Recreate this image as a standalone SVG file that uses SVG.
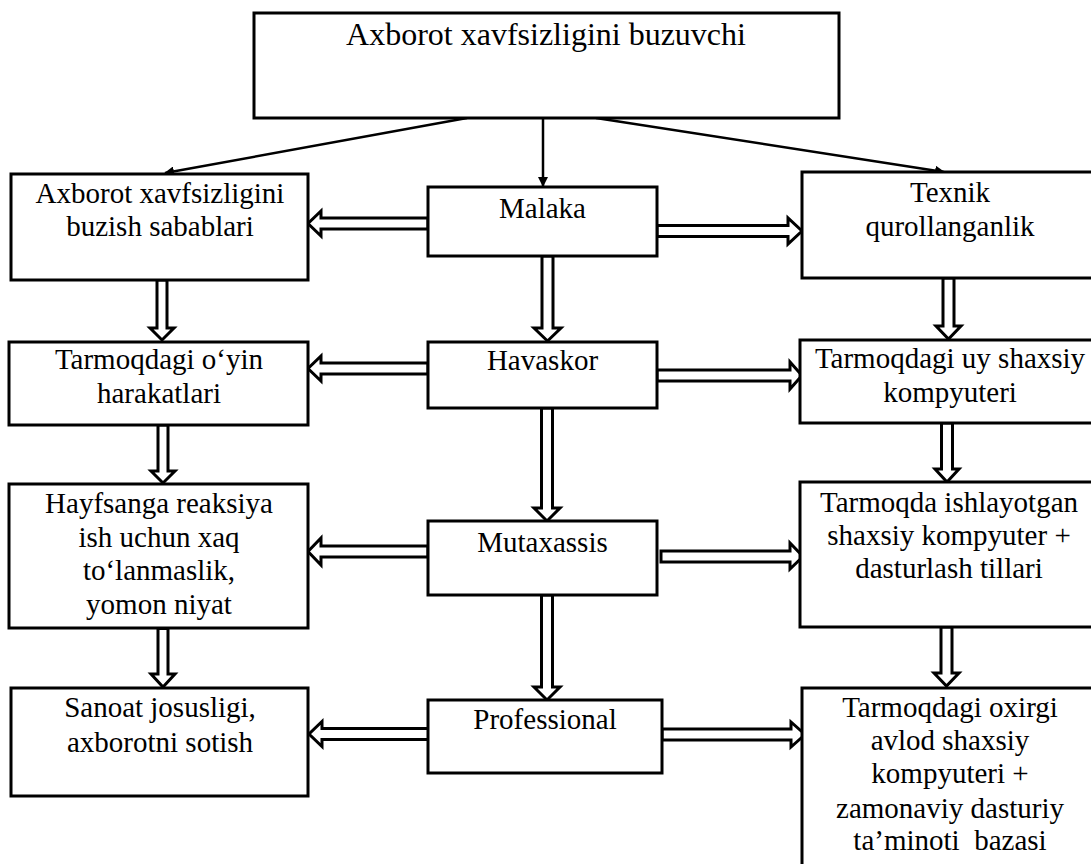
<svg xmlns="http://www.w3.org/2000/svg" width="1091" height="864" viewBox="0 0 1091 864">
<style>
.box{fill:#fff;stroke:#000;stroke-width:3}
.t{font-family:'Liberation Serif','Times New Roman',serif;font-size:29px;fill:#000;text-anchor:middle}
.title{font-size:32px}
.thin{stroke:#000;stroke-width:2.5;fill:none}
.dbl{fill:#fff;stroke:#000;stroke-width:3;stroke-linejoin:miter}
</style>
<defs>
<marker id="ah" markerWidth="10" markerHeight="10" refX="9" refY="5" orient="auto" markerUnits="userSpaceOnUse" viewBox="0 0 10 10">
<path d="M0,0 L10,5 L0,10 z" fill="#000"/>
</marker>
</defs>
<rect width="1091" height="864" fill="#fff"/>

<g id="connectors">
<line class="thin" x1="467" y1="118" x2="165" y2="173" marker-end="url(#ah)"/>
<line class="thin" x1="543" y1="118" x2="543" y2="186" marker-end="url(#ah)"/>
<line class="thin" x1="596" y1="118" x2="944" y2="172" marker-end="url(#ah)"/>
<polygon class="dbl" points="428,218 321,218 321,211 308,223.5 321,236 321,229 428,229"/>
<polygon class="dbl" points="657,225.5 788,225.5 788,218 802,231 788,244 788,236.5 657,236.5"/>
<polygon class="dbl" points="428,363 321,363 321,356 308,368.5 321,381 321,374 428,374"/>
<polygon class="dbl" points="657,370 790,370 790,362 802,375.5 790,389 790,381 657,381"/>
<polygon class="dbl" points="428,546 321,546 321,538 308,551.5 321,565 321,557 428,557"/>
<polygon class="dbl" points="661,551 790,551 790,543 803,556.5 790,569 790,562 661,562"/>
<polygon class="dbl" points="430,728.5 322,728.5 322,721.5 309,734 322,746.5 322,739.5 430,739.5"/>
<rect x="428" y="727" width="4" height="14" fill="#000"/>
<polygon class="dbl" points="662,729 791,729 791,722 805,734.5 791,747 791,740 662,740"/>
<polygon class="dbl" points="157,280 157,328 150,328 162,340 174,328 167,328 167,280"/>
<polygon class="dbl" points="158,425 158,471 151,471 163,483 175,471 168,471 168,425"/>
<polygon class="dbl" points="158,627 158,674 151,674 163,687 175,674 168,674 168,627"/>
<rect x="157" y="626" width="12" height="4" fill="#000"/>
<polygon class="dbl" points="542,256 542,328 534,328 547.5,341 561,328 553,328 553,256"/>
<polygon class="dbl" points="541.5,408 541.5,508 534,508 547,521 560,508 552.5,508 552.5,408"/>
<polygon class="dbl" points="541.5,595 541.5,687 534,687 547,700 560,687 552.5,687 552.5,595"/>
<polygon class="dbl" points="943,278 943,326 936,326 948.5,339 961,326 954,326 954,278"/>
<polygon class="dbl" points="941.5,423 941.5,469 935,469 947,482 959,469 952.5,469 952.5,423"/>
<polygon class="dbl" points="941,627 941,673 934,673 946.5,686 959,673 952,673 952,627"/>
</g>

<g id="n-top">
<rect class="box" x="254" y="13" width="585" height="105"/>
<text class="t title" x="546" y="45">Axborot xavfsizligini buzuvchi</text>
</g>

<g id="n-sabablari">
<rect class="box" x="11" y="174" width="297" height="106"/>
<text class="t" x="160" y="203">Axborot xavfsizligini</text>
<text class="t" x="160" y="236">buzish sabablari</text>
</g>
<g id="n-oyin">
<rect class="box" x="9" y="342" width="299" height="83"/>
<text class="t" x="159" y="369">Tarmoqdagi o‘yin</text>
<text class="t" x="159" y="403">harakatlari</text>
</g>
<g id="n-hayfsanga">
<rect class="box" x="9" y="484" width="299" height="144"/>
<text class="t" x="159" y="513">Hayfsanga reaksiya</text>
<text class="t" x="159" y="547">ish uchun xaq</text>
<text class="t" x="159" y="580">to‘lanmaslik,</text>
<text class="t" x="159" y="614">yomon niyat</text>
</g>
<g id="n-sanoat">
<rect class="box" x="11" y="688" width="297" height="108"/>
<text class="t" x="160" y="717">Sanoat josusligi,</text>
<text class="t" x="160" y="752">axborotni sotish</text>
</g>

<g id="n-malaka">
<rect class="box" x="428" y="187" width="229" height="69"/>
<text class="t" x="542.5" y="218">Malaka</text>
</g>
<g id="n-havaskor">
<rect class="box" x="428" y="342" width="229" height="66"/>
<text class="t" x="542.5" y="370">Havaskor</text>
</g>
<g id="n-mutaxassis">
<rect class="box" x="428" y="521" width="229" height="74"/>
<text class="t" x="542.5" y="552">Mutaxassis</text>
</g>
<g id="n-professional">
<rect class="box" x="428" y="700" width="234" height="73"/>
<text class="t" x="545" y="729">Professional</text>
</g>

<g id="n-texnik">
<rect class="box" x="802" y="172" width="300" height="106"/>
<text class="t" x="950" y="202">Texnik</text>
<text class="t" x="950" y="236">qurollanganlik</text>
</g>
<g id="n-uy">
<rect class="box" x="800" y="340" width="302" height="83"/>
<text class="t" x="950" y="368">Tarmoqdagi uy shaxsiy</text>
<text class="t" x="950" y="402">kompyuteri</text>
</g>
<g id="n-ishlayotgan">
<rect class="box" x="800" y="482" width="302" height="145"/>
<text class="t" x="949" y="512">Tarmoqda ishlayotgan</text>
<text class="t" x="949" y="545">shaxsiy kompyuter +</text>
<text class="t" x="949" y="578">dasturlash tillari</text>
</g>
<g id="n-oxirgi">
<rect class="box" x="802" y="688" width="300" height="190"/>
<text class="t" x="950" y="717">Tarmoqdagi oxirgi</text>
<text class="t" x="950" y="750">avlod shaxsiy</text>
<text class="t" x="950" y="783">kompyuteri +</text>
<text class="t" x="950" y="818">zamonaviy dasturiy</text>
<text class="t" x="950" y="850" xml:space="preserve">ta’minoti  bazasi</text>
</g>
</svg>
